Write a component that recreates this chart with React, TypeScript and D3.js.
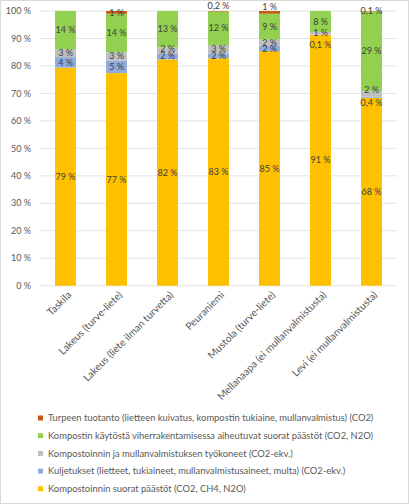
import * as d3 from "d3";
import { useEffect } from "react";

// categories and series (values in % of total emissions)
const sites = [
  "Taskila",
  "Lakeus (turve-liete)",
  "Lakeus (liete ilman turvetta)",
  "Peuraniemi",
  "Mustola (turve-liete)",
  "Mellanaapa (ei mullanvalmistusta)",
  "Levi (ei mullanvalmistusta)",
];

const suorat = [79.4, 77.4, 82.4, 82.8, 85.4, 91.3, 68.4];
const kuljetukset = [3.8, 4.6, 2, 1.8, 2, 0.1, 0.4];
const tyokoneet = [2.9, 3, 2.3, 3, 2.2, 1, 2];
const kaytosta = [13.9, 14, 13.3, 12.2, 9.4, 7.6, 29.1];
const turve = [0, 1, 0, 0.2, 1, 0, 0.1];

const yTicks = [0, 10, 20, 30, 40, 50, 60, 70, 80, 90, 100];

const seriesNames = [
  "Kompostoinnin suorat päästöt (CO2, CH4, N2O)",
  "Kuljetukset (lietteet, tukiaineet, mullanvalmistusaineet, multa) (CO2-ekv.)",
  "Kompostoinnin ja mullanvalmistuksen työkoneet (CO2-ekv.)",
  "Kompostin käytöstä viherrakentamisessa aiheutuvat suorat päästöt (CO2, N2O)",
  "Turpeen tuotanto (lietteen kuivatus, kompostin tukiaine, mullanvalmistus) (CO2)",
];
const seriesValues = [suorat, kuljetukset, tyokoneet, kaytosta, turve];
const colors = ["#FFC000", "#8FAADC", "#BFBFBF", "#92D050", "#C55A11"];

// hand-moved labels in the original (site index, series index, px down)
const labelNudge: [number, number, number][] = [
  [5, 1, 10],
  [6, 1, 6],
  [6, 2, -4],
  [3, 4, -5],
  [4, 4, -6],
  [2, 2, -1.5],
  [2, 1, -1],
];

const W = 409;
const H = 504;
const font = "Lato, 'Open Sans', sans-serif";

function fmt(v: number) {
  if (v < 1) return `${v.toFixed(1).replace(".", ",")} %`;
  return `${Math.round(v)} %`;
}

export default function App() {
  useEffect(() => {
    document.body.style.margin = "0";
  }, []);

  const rows = sites.map((s, i) => {
    const r: Record<string, number | string> = { site: s };
    seriesValues.forEach((vals, k) => (r["s" + k] = vals[i]));
    return r;
  });
  const keys = seriesValues.map((_, k) => "s" + k);
  const stacked = d3.stack<Record<string, number | string>>().keys(keys)(rows as any);

  const x = d3.scaleBand().domain(sites).range([40, 397]).paddingInner(0.59).paddingOuter(0.295);
  const y = d3.scaleLinear().domain([0, 100]).range([285.7, 11]);

  const nudge = (i: number, k: number) => {
    const f = labelNudge.find((n) => n[0] === i && n[1] === k);
    return f ? f[2] : 0;
  };

  const legendOrder = [4, 3, 2, 1, 0];

  return (
    <svg width={W} height={H} style={{ display: "block", fontFamily: font }}>
      <rect x={0.5} y={0.5} width={W - 1} height={H - 1} fill="#fff" stroke="#D9D9D9" />
      {/* grid */}
      {yTicks.map((t) => (
        <g key={t}>
          <line x1={40} x2={397} y1={y(t)} y2={y(t)} stroke="#D9D9D9" strokeWidth={0.75} />
          <text x={31} y={y(t)} dy="0.35em" textAnchor="end" fontSize={9} fill="#595959">
            {`${t} %`}
          </text>
        </g>
      ))}
      {/* bars */}
      {stacked.map((layer, k) => (
        <g key={k} fill={colors[k]}>
          {layer.map((d, i) =>
            d[1] - d[0] > 0 ? (
              <rect
                key={i}
                x={x(sites[i])}
                width={x.bandwidth()}
                y={y(d[1])}
                height={y(d[0]) - y(d[1])}
              />
            ) : null
          )}
        </g>
      ))}
      {/* data labels */}
      {stacked.map((layer, k) => (
        <g key={"l" + k}>
          {layer.map((d, i) => {
            const v = seriesValues[k][i];
            if (v <= 0) return null;
            return (
              <text
                key={i}
                x={(x(sites[i]) ?? 0) + x.bandwidth() / 2}
                y={y((d[0] + d[1]) / 2) + nudge(i, k)}
                dy="0.35em"
                textAnchor="middle"
                fontSize={9}
                fill="#404040"
              >
                {fmt(v)}
              </text>
            );
          })}
        </g>
      ))}
      {/* x labels */}
      {sites.map((s) => (
        <text
          key={s}
          transform={`translate(${(x(s) ?? 0) + x.bandwidth() / 2 + 4},${293}) rotate(-45)`}
          textAnchor="end"
          dy="0.35em"
          fontSize={10.2}
          fill="#595959"
        >
          {s}
        </text>
      ))}
      {/* legend */}
      {legendOrder.map((k, j) => (
        <g key={"lg" + k} transform={`translate(38,${418 + j * 17.7})`}>
          <rect x={0} y={-2.5} width={5} height={5} fill={colors[k]} />
          <text x={10} y={0} dy="0.35em" fontSize={9.4} fill="#595959">
            {seriesNames[k]}
          </text>
        </g>
      ))}
    </svg>
  );
}
